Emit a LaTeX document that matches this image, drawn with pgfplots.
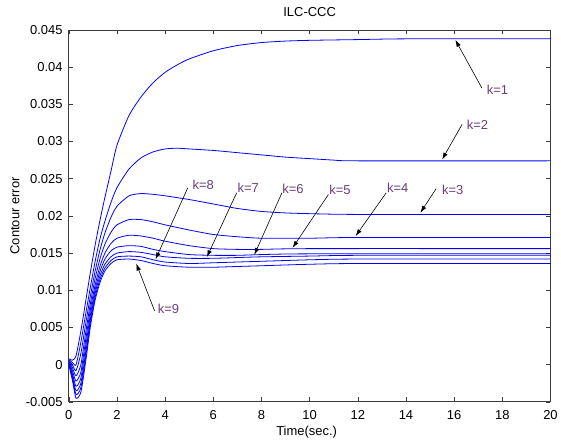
\documentclass[border=0pt]{standalone}
\usepackage{fontspec}
\setmainfont{Liberation Sans}
\usepackage{pgfplots}
\pgfplotsset{compat=1.18}
\usetikzlibrary{arrows.meta,calc}
\definecolor{lineblue}{HTML}{0000FF}
\definecolor{klab}{HTML}{6A3D7A}
\definecolor{frame}{HTML}{3C3C3C}
\pgfplotsset{kline/.style={draw=lineblue, line width=0.8bp, smooth, tension=0.4, mark=none}}

\begin{document}
\begin{tikzpicture}[font=\fontsize{13bp}{15bp}\selectfont]
\begin{axis}[
  scale only axis,
  width=483bp, height=373bp,
  xmin=0, xmax=20, ymin=-0.005, ymax=0.045,
  xtick={0,2,4,6,8,10,12,14,16,18,20},
  xticklabels={0,2,4,6,8,10,12,14,16,18,20},
  ytick={-0.005,0,0.005,0.01,0.015,0.02,0.025,0.03,0.035,0.04,0.045},
  yticklabels={-0.005,0,0.005,0.01,0.015,0.02,0.025,0.03,0.035,0.04,0.045},
  scaled y ticks=false,
  scaled x ticks=false,
  tick align=inside,
  major tick length=4.5bp,
  axis line style={draw=frame, line width=0.8bp},
  tick style={draw=frame, line width=0.6bp},
  xticklabel style={anchor=center, yshift=-13bp},
  yticklabel style={anchor=east, inner sep=0pt, xshift=-6bp},
]
% k=1
\addplot[kline] coordinates {(0,0.0008)(0.15,0.0006)(0.3,0.0012)(0.5,0.0045)(0.7,0.0085)(0.9,0.0125)(1.1,0.0162)(1.3,0.0195)(1.5,0.0225)(1.75,0.0260)(2,0.0295)(2.5,0.0335)(3,0.0360)(3.5,0.0379)(4,0.0393)(4.5,0.0403)(5,0.0411)(6,0.0422)(7,0.0429)(8,0.0433)(9,0.0435)(10,0.0436)(12,0.0437)(14,0.0438)(20,0.0438)};
% k=2
\addplot[kline] coordinates {(0,0.0007)(0.15,0.0003)(0.3,0.0)(0.5,0.003)(0.7,0.0068)(0.9,0.0105)(1.1,0.0140)(1.3,0.0170)(1.5,0.0193)(1.75,0.0218)(2,0.0238)(2.5,0.0263)(3,0.0278)(3.5,0.0286)(4,0.0290)(4.5,0.0291)(5,0.0290)(6,0.0288)(7,0.0285)(8,0.0282)(9,0.0279)(10,0.0277)(11,0.0275)(12,0.0274)(20,0.0274)};
% k=3
\addplot[kline] coordinates {(0,0.0006)(0.15,0.0)(0.3,-0.0008)(0.5,0.0015)(0.7,0.0055)(0.9,0.0093)(1.1,0.0127)(1.3,0.0155)(1.5,0.0177)(1.75,0.0198)(2,0.0213)(2.5,0.0227)(3,0.0230)(3.5,0.0229)(4,0.0227)(5,0.0222)(6,0.0216)(7,0.0210)(8,0.0206)(9,0.0204)(10,0.0203)(12,0.0202)(20,0.0202)};
% k=4
\addplot[kline] coordinates {(0,0.0005)(0.15,-0.0004)(0.3,-0.0015)(0.5,0.0)(0.7,0.0043)(0.9,0.0083)(1.1,0.0117)(1.3,0.0143)(1.5,0.0162)(1.75,0.0178)(2,0.0188)(2.5,0.0195)(3,0.0195)(3.5,0.0192)(4,0.0188)(5,0.0181)(6,0.0175)(7,0.0172)(8,0.0170)(10,0.0170)(12,0.0171)(20,0.0171)};
% k=5
\addplot[kline] coordinates {(0,0.0004)(0.15,-0.0008)(0.3,-0.0022)(0.5,-0.001)(0.7,0.0033)(0.9,0.0075)(1.1,0.0108)(1.3,0.0133)(1.5,0.0150)(1.75,0.0163)(2,0.0170)(2.5,0.0174)(3,0.0173)(3.5,0.0170)(4,0.0166)(5,0.0160)(6,0.0156)(7,0.0155)(8,0.0155)(10,0.0156)(20,0.0156)};
% k=6
\addplot[kline] coordinates {(0,0.0003)(0.15,-0.0012)(0.3,-0.0029)(0.5,-0.0018)(0.7,0.0024)(0.9,0.0068)(1.1,0.0102)(1.3,0.0126)(1.5,0.0142)(1.75,0.0153)(2,0.0158)(2.5,0.0160)(3,0.0159)(3.5,0.0155)(4,0.0152)(5,0.0148)(6,0.0147)(7,0.0147)(8,0.0148)(10,0.0149)(20,0.0149)};
% k=7
\addplot[kline] coordinates {(0,0.0002)(0.15,-0.0015)(0.3,-0.0035)(0.5,-0.0025)(0.7,0.0016)(0.9,0.0062)(1.1,0.0097)(1.3,0.0120)(1.5,0.0135)(1.75,0.0145)(2,0.0150)(2.5,0.0152)(3,0.0151)(3.5,0.0148)(4,0.0145)(5,0.0143)(6,0.0143)(7,0.0144)(8,0.0145)(10,0.0146)(12,0.0147)(20,0.0147)};
% k=8
\addplot[kline] coordinates {(0,0.0001)(0.15,-0.0018)(0.3,-0.0040)(0.5,-0.0031)(0.7,0.0010)(0.9,0.0057)(1.1,0.0092)(1.3,0.0115)(1.5,0.0130)(1.75,0.0140)(2,0.0145)(2.5,0.0146)(3,0.0145)(3.5,0.0141)(4,0.0138)(5,0.0136)(6,0.0137)(7,0.0138)(8,0.0139)(10,0.0141)(12,0.0142)(20,0.0142)};
% k=9
\addplot[kline] coordinates {(0,0.0)(0.15,-0.0021)(0.3,-0.0045)(0.5,-0.0037)(0.7,0.0004)(0.9,0.0052)(1.1,0.0088)(1.3,0.0111)(1.5,0.0126)(1.75,0.0136)(2,0.0141)(2.5,0.0142)(3,0.0140)(3.5,0.0136)(4,0.0133)(5,0.0131)(6,0.0131)(7,0.0132)(8,0.0133)(10,0.0135)(12,0.0136)(20,0.0136)};

% annotations
\tikzset{karrow/.style={draw=black, line width=0.6bp, -{Latex[length=7bp,width=4.5bp]}},
         klabel/.style={text=klab, anchor=west, inner sep=0pt}}
\draw[karrow] (axis cs:17.15,0.0372) -- (axis cs:16.05,0.04366);
\node[klabel] at (axis cs:17.35,0.0370) {k=1};
\draw[karrow] (axis cs:16.33,0.0323) -- (axis cs:15.5,0.02757);
\node[klabel] at (axis cs:16.52,0.0323) {k=2};
\draw[karrow] (axis cs:15.25,0.02365) -- (axis cs:14.6,0.02043);
\node[klabel] at (axis cs:15.49,0.02355) {k=3};
\draw[karrow] (axis cs:13.18,0.02311) -- (axis cs:11.91,0.01729);
\node[klabel] at (axis cs:13.21,0.02382) {k=4};
\draw[karrow] (axis cs:10.78,0.02288) -- (axis cs:9.29,0.0157);
\node[klabel] at (axis cs:10.81,0.02355) {k=5};
\draw[karrow] (axis cs:8.85,0.02311) -- (axis cs:7.70,0.01475);
\node[klabel] at (axis cs:8.86,0.02369) {k=6};
\draw[karrow] (axis cs:6.97,0.02311) -- (axis cs:5.73,0.01445);
\node[klabel] at (axis cs:7.0,0.02382) {k=7};
\draw[karrow] (axis cs:4.94,0.02378) -- (axis cs:3.60,0.01415);
\node[klabel] at (axis cs:5.13,0.02422) {k=8};
\draw[karrow] (axis cs:3.56,0.00724) -- (axis cs:2.80,0.0136);
\node[klabel] at (axis cs:3.69,0.00747) {k=9};
\end{axis}
\node at ($(current axis.north)+(0,18bp)$) {ILC-CCC};
\node at ($(current axis.south)+(-3bp,-30bp)$) {Time(sec.)};
\node[rotate=90] at ($(current axis.west)+(-54bp,0)$) {Contour error};
\path ($(current axis.south west)+(-69bp,-45bp)$) rectangle ($(current axis.north east)+(9bp,30bp)$);
\end{tikzpicture}
\end{document}
